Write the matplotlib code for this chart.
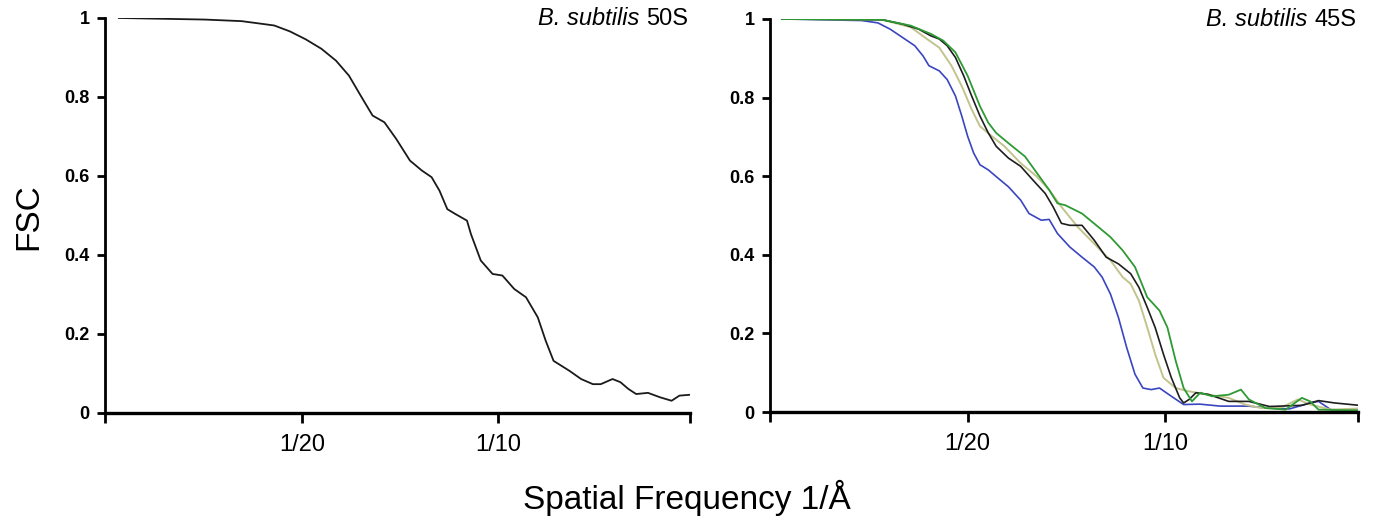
import numpy as np
import matplotlib
matplotlib.use('Agg')
import matplotlib.pyplot as plt

plt.rcParams['font.family'] = ['Liberation Sans', 'DejaVu Sans']

# left panel: B. subtilis 50S
x50 = [0.0035, 0.0253, 0.0347, 0.040, 0.043, 0.047, 0.051, 0.055, 0.0587, 0.062,
       0.065, 0.068, 0.071, 0.074, 0.0775, 0.0805, 0.083, 0.085, 0.087, 0.089,
       0.092, 0.093, 0.0955, 0.0985, 0.101, 0.104, 0.107, 0.110, 0.112, 0.114,
       0.118, 0.121, 0.124, 0.126, 0.129, 0.131, 0.133, 0.135, 0.138, 0.141,
       0.144, 0.146, 0.1485]
y50 = [1.0, 0.996, 0.992, 0.985, 0.981, 0.966, 0.946, 0.922, 0.892, 0.854,
       0.803, 0.753, 0.736, 0.694, 0.639, 0.614, 0.597, 0.563, 0.516, 0.504,
       0.487, 0.453, 0.386, 0.352, 0.348, 0.314, 0.293, 0.242, 0.183, 0.132,
       0.107, 0.086, 0.073, 0.073, 0.086, 0.078, 0.061, 0.048, 0.051, 0.040,
       0.031, 0.044, 0.046]

# right panel: B. subtilis 45S, four curves
xb = [0.003, 0.0232, 0.0273, 0.0304, 0.0335, 0.0366, 0.0387, 0.0402, 0.0428, 0.0448,
      0.0469, 0.0485, 0.050, 0.0515, 0.0531, 0.0552, 0.0572, 0.0603, 0.0634, 0.0655,
      0.0686, 0.0706, 0.0727, 0.0758, 0.0789, 0.082, 0.084, 0.0861, 0.0881, 0.0902,
      0.0923, 0.0943, 0.0964, 0.0985, 0.1015, 0.1046, 0.1087, 0.1139, 0.121, 0.126,
      0.1314, 0.1366, 0.1387, 0.1418, 0.149]
yb = [1.0, 0.996, 0.99, 0.974, 0.953, 0.932, 0.906, 0.881, 0.868, 0.846,
      0.804, 0.753, 0.701, 0.659, 0.629, 0.616, 0.599, 0.573, 0.539, 0.505,
      0.488, 0.49, 0.454, 0.42, 0.394, 0.369, 0.343, 0.30, 0.241, 0.164,
      0.096, 0.061, 0.057, 0.061, 0.04, 0.019, 0.02, 0.015, 0.015, 0.01,
      0.008, 0.023, 0.027, 0.006, 0.004]

xk = [0.003, 0.0284, 0.0335, 0.0376, 0.0407, 0.0428, 0.0448, 0.0469, 0.049, 0.051,
      0.0531, 0.0552, 0.0572, 0.0603, 0.0634, 0.0665, 0.0696, 0.0716, 0.0737, 0.0758,
      0.0789, 0.082, 0.085, 0.0881, 0.0912, 0.0933, 0.0954, 0.0974, 0.0995, 0.1015,
      0.1036, 0.1046, 0.106, 0.1077, 0.1108, 0.116, 0.1211, 0.1263, 0.1345, 0.1387,
      0.1428, 0.149]
yk = [1.0, 0.998, 0.987, 0.974, 0.957, 0.949, 0.932, 0.902, 0.855, 0.804,
      0.753, 0.71, 0.676, 0.646, 0.625, 0.59, 0.556, 0.522, 0.48, 0.475,
      0.475, 0.437, 0.394, 0.377, 0.352, 0.317, 0.266, 0.215, 0.147, 0.087,
      0.036, 0.023, 0.032, 0.049, 0.045, 0.027, 0.027, 0.014, 0.017, 0.029,
      0.023, 0.017]

xt = [0.003, 0.0284, 0.0356, 0.0397, 0.0428, 0.0459, 0.0485, 0.051, 0.0531, 0.0562,
      0.0593, 0.0634, 0.0675, 0.0706, 0.0737, 0.0778, 0.082, 0.0861, 0.0892, 0.0912,
      0.0933, 0.0954, 0.0974, 0.0995, 0.1026, 0.1057, 0.1108, 0.116, 0.1201, 0.1242,
      0.1294, 0.1335, 0.1366, 0.1418, 0.149]
yt = [1.0, 0.998, 0.979, 0.949, 0.927, 0.881, 0.829, 0.77, 0.727, 0.701,
      0.676, 0.633, 0.599, 0.565, 0.522, 0.471, 0.428, 0.386, 0.343, 0.326,
      0.283, 0.215, 0.147, 0.087, 0.061, 0.053, 0.044, 0.036, 0.019, 0.01,
      0.012, 0.032, 0.019, 0.006, 0.009]

xg = [0.003, 0.0284, 0.0356, 0.0407, 0.0438, 0.0469, 0.05, 0.0531, 0.0552, 0.0572,
      0.0603, 0.0645, 0.0675, 0.0706, 0.0727, 0.0747, 0.0789, 0.083, 0.0861, 0.0892,
      0.0923, 0.0954, 0.0985, 0.1005, 0.1026, 0.1046, 0.1067, 0.1088, 0.1118, 0.116,
      0.1191, 0.1211, 0.1253, 0.1304, 0.1345, 0.1366, 0.1387, 0.149]
yg = [1.0, 0.998, 0.983, 0.962, 0.945, 0.915, 0.855, 0.778, 0.736, 0.71,
      0.684, 0.65, 0.608, 0.565, 0.531, 0.526, 0.505, 0.471, 0.445, 0.411,
      0.369, 0.292, 0.258, 0.215, 0.13, 0.061, 0.027, 0.049, 0.04, 0.044,
      0.057, 0.032, 0.01, 0.006, 0.036, 0.027, 0.006, 0.004]

xticks = [0, 0.05, 0.10, 0.1487]
xticklabels = ['', '1/20', '1/10', '']
yticks = [0, 0.2, 0.4, 0.6, 0.8, 1.0]
yticklabels = ['0', '0.2', '0.4', '0.6', '0.8', '1']

fig = plt.figure(figsize=(13.73, 5.21), dpi=100)
ax1 = fig.add_axes([0.0765, 0.2073, 0.4261, 0.7582])
ax2 = fig.add_axes([0.5608, 0.2092, 0.4283, 0.7544])

ax1.plot(x50, y50, color='#1a1a1a', lw=1.3)
ax2.plot(xb, yb, color='#3a45c0', lw=1.2)
ax2.plot(xt, yt, color='#c2c48e', lw=1.4)
ax2.plot(xk, yk, color='#1e1e1e', lw=1.2)
ax2.plot(xg, yg, color='#2e9a34', lw=1.3)

for ax, name in [(ax1, '50S'), (ax2, '45S')]:
    ax.set_xlim(0, 0.1487)
    ax.set_ylim(0, 1)
    ax.spines['top'].set_visible(False)
    ax.spines['right'].set_visible(False)
    ax.spines['left'].set_linewidth(2.0)
    ax.spines['bottom'].set_linewidth(2.4)
    ax.set_xticks(xticks)
    ax.set_xticklabels(xticklabels, fontsize=17)
    ax.set_yticks(yticks)
    ax.set_yticklabels(yticklabels, fontsize=13, fontweight='bold')
    ax.tick_params(axis='x', direction='out', length=7, width=2, pad=8)
    ax.tick_params(axis='y', direction='out', length=6, width=2, pad=5)
    t = ax.text(0.997, 1.025, name, transform=ax.transAxes, ha='right', va='top',
                fontsize=17)
    ax.annotate('B. subtilis ', xy=(0, 0), xycoords=t, ha='right', va='bottom',
                fontsize=17, style='italic')

fig.text(0.021, 0.585, 'FSC', rotation=90, fontsize=24, ha='center', va='center')
fig.text(0.5, 0.045, 'Spatial Frequency 1/Å', fontsize=24, ha='center', va='center')

fig.savefig('out.png', dpi=100)
